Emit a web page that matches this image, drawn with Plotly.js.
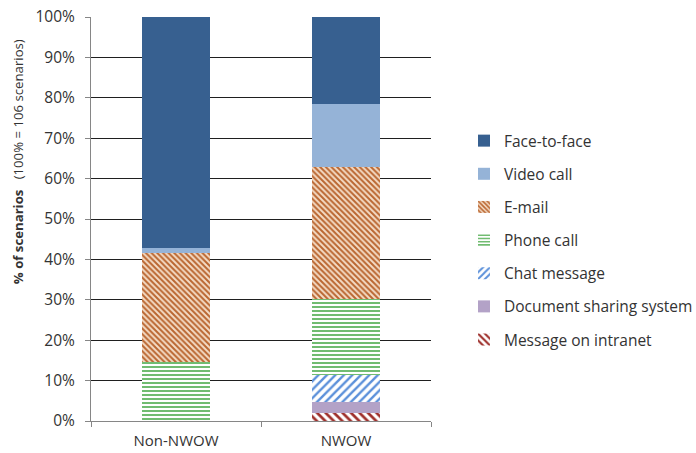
<!DOCTYPE html>
<html>
<head>
<meta charset="utf-8">
<script src="https://cdn.plot.ly/plotly-3.0.1.min.js"></script>
<style>
  html, body { margin: 0; padding: 0; background: #ffffff; }
  #chart { width: 696px; height: 453px; }
</style>
</head>
<body>
<div id="chart"></div>
<script>
// Share of scenarios (%) per communication channel, for each work-style group
const groups = ["Non-NWOW", "NWOW"];
const seriesNames = [
  "Message on intranet",
  "Document sharing system",
  "Chat message",
  "Phone call",
  "E-mail",
  "Video call",
  "Face-to-face"
];
const intranet   = [0, 1.9];
const docShare   = [0, 2.8];
const chat       = [0, 6.6];
const phone      = [14.7, 18.9];
const email      = [26.9, 32.6];
const video      = [1.1, 15.7];
const faceToFace = [57.3, 21.5];

const seriesValues = [intranet, docShare, chat, phone, email, video, faceToFace];

// Fill style per channel (stacked bottom to top)
const fills = [
  { color: "#ffffff", pattern: { shape: "\\", fgcolor: "#9E2F2B", bgcolor: "#ffffff", size: 6, solidity: 0.45, fillmode: "replace" } },
  { color: "#B3A2C7" },
  { color: "#ffffff", pattern: { shape: "/", fgcolor: "#5B90DA", bgcolor: "#ffffff", size: 6, solidity: 0.4, fillmode: "replace" } },
  { color: "#ffffff", pattern: { shape: "-", fgcolor: "#34A034", bgcolor: "#ffffff", size: 4, solidity: 0.35, fillmode: "replace" } },
  { color: "#F2D6BD", pattern: { shape: "\\", fgcolor: "#BA6630", bgcolor: "#F4DCC6", size: 4, solidity: 0.5, fillmode: "replace" } },
  { color: "#95B3D7" },
  { color: "#376090" }
];

// Legend lists the top segment first
const traces = seriesNames.map((name, i) => {
  const marker = { color: fills[i].color, line: { width: 0 } };
  if (fills[i].pattern) marker.pattern = fills[i].pattern;
  return {
    type: "bar",
    name: name,
    x: groups,
    y: seriesValues[i],
    marker: marker,
    legendgroup: "g" + i,
    legendrank: seriesNames.length - i,
    hoverinfo: "name+y"
  };
});

const textColor = "#333333";
const axisGray = "#868686";

const layout = {
  width: 696,
  height: 453,
  margin: { l: 91, r: 265, t: 17, b: 32, pad: 0, autoexpand: false },
  paper_bgcolor: "#ffffff",
  plot_bgcolor: "#ffffff",
  font: { family: "Open Sans, sans-serif", color: textColor, size: 15 },
  barmode: "stack",
  bargap: 0.6,
  showlegend: true,
  legend: {
    x: 1.097, xanchor: "left",
    y: 0.735, yanchor: "top",
    traceorder: "grouped",
    tracegroupgap: 10,
    font: { size: 15.5, color: textColor },
    bgcolor: "rgba(0,0,0,0)"
  },
  xaxis: {
    type: "category",
    showline: true,
    linecolor: axisGray,
    linewidth: 1,
    ticks: "outside",
    tickson: "boundaries",
    ticklen: 5,
    tickcolor: axisGray,
    ticklabelstandoff: 6,
    tickfont: { size: 15, color: textColor },
    showgrid: false,
    zeroline: false
  },
  yaxis: {
    range: [0, 100],
    dtick: 10,
    ticksuffix: "%",
    showline: true,
    linecolor: axisGray,
    linewidth: 1,
    ticks: "outside",
    ticklen: 5,
    tickcolor: axisGray,
    ticklabelstandoff: 7,
    tickfont: { size: 15.5, color: textColor },
    showgrid: true,
    gridcolor: "#1f1f1f",
    gridwidth: 1,
    zeroline: false
  },
  annotations: [{
    xref: "paper", yref: "paper",
    x: -0.215, y: 0.643,
    xanchor: "center", yanchor: "middle",
    textangle: -90,
    showarrow: false,
    text: "<b>% of scenarios</b>\u00A0\u00A0\u00A0(100% = 106 scenarios)",
    font: { size: 13.2, color: textColor }
  }]
};

Plotly.newPlot("chart", traces, layout, { displayModeBar: false, staticPlot: true });
</script>
</body>
</html>
